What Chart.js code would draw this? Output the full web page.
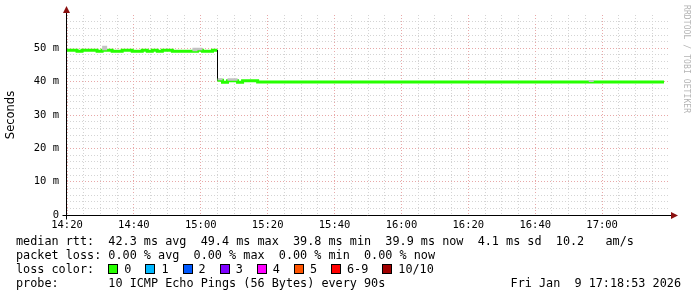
<!DOCTYPE html>
<html>
<head>
<meta charset="utf-8">
<script src="https://cdn.jsdelivr.net/npm/chart.js@4.4.1/dist/chart.umd.min.js"></script>
<style>
  html, body { margin: 0; padding: 0; background: #fff; }
  #wrap { position: relative; width: 697px; height: 297px; overflow: hidden; }
  #chart { position: absolute; left: 0; top: 0; }
  .lg { position: absolute; left: 16px; font: 11.8px "DejaVu Sans Mono", monospace; white-space: pre; color: #000; line-height: 14px; }
  .sw { display: inline-block; width: 8px; height: 8px; border: 1px solid #000; vertical-align: -1px; margin-right: 6px; }
  .it { margin-right: 14px; }
  #credit { position: absolute; left: 682px; top: 5px; writing-mode: vertical-rl; font: 8px "DejaVu Sans Mono", monospace; color: #b4b4b4; letter-spacing: 0.1px; }
</style>
</head>
<body>
<div id="wrap">
  <canvas id="chart" width="697" height="297"></canvas>
  <div id="credit">RRDTOOL / TOBI OETIKER</div>
  <div class="lg" style="top:234px">median rtt:  42.3 ms avg  49.4 ms max  39.8 ms min  39.9 ms now  4.1 ms sd  10.2   am/s</div>
  <div class="lg" style="top:248px">packet loss: 0.00 % avg  0.00 % max  0.00 % min  0.00 % now</div>
  <div class="lg" id="lossRow" style="top:262px">loss color:  </div>
  <div class="lg" style="top:276px;width:665px">probe:       10 ICMP Echo Pings (56 Bytes) every 90s<span style="position:absolute;right:0">Fri Jan  9 17:18:53 2026</span></div>
</div>
<script>
// minutes after 14:20, one entry per step of the median line
const stepStart = [0, 3, 4.5, 9, 10.5, 12, 13.5, 16.5, 19.5, 22.5, 24, 25.5, 27, 28.5, 31.5, 37.5, 39, 40.5, 43.5,
  45, 46.5, 48, 49.5, 51, 52.5, 57, 156, 157.5];
const medianMs = [49.4, 49.1, 49.4, 49.1, 49.4, 49.4, 49.1, 49.4, 49.1, 49.4, 49.1, 49.4, 49.1, 49.4, 49.1, 49.1, 49.4, 49.1, 49.4,
  40.4, 39.8, 40.3, 40.3, 39.8, 40.3, 39.9, 39.9, 39.9];
const smokeHiMs = [49.4, 49.1, 49.4, 49.1, 50.8, 49.4, 49.1, 49.4, 49.1, 49.4, 49.1, 49.4, 49.1, 49.4, 49.1, 50.2, 50.2, 49.1, 49.4,
  41.0, 39.8, 41.0, 41.0, 39.8, 40.3, 39.9, 40.5, 39.9];
const lastSample = 178.5;
const xTickLabels = ['14:20', '14:40', '15:00', '15:20', '15:40', '16:00', '16:20', '16:40', '17:00'];
const lossLabels = ['0', '1', '2', '3', '4', '5', '6-9', '10/10'];
const lossColors = ['#26ff00', '#00b8ff', '#0059ff', '#7e00ff', '#ff00ff', '#ff5500', '#ff0000', '#a10000'];

const minorGrid = '#d4d4d4';
const majorGrid = '#e8a8a8';

// loss colour legend
const lossRow = document.getElementById('lossRow');
lossLabels.forEach((l, i) => {
  const sw = document.createElement('span');
  sw.className = 'sw';
  sw.style.background = lossColors[i];
  const t = document.createElement('span');
  t.className = 'it';
  t.textContent = l;
  lossRow.appendChild(sw);
  lossRow.appendChild(t);
});

function stepPoints(vals) {
  const pts = [];
  stepStart.forEach((t, i) => {
    const t2 = i + 1 < stepStart.length ? stepStart[i + 1] : lastSample;
    pts.push({ x: t, y: vals[i] }, { x: t2, y: vals[i] });
  });
  return pts;
}

const isDrop = c => c.p0.parsed.x === c.p1.parsed.x && Math.abs(c.p0.parsed.y - c.p1.parsed.y) > 2;

const axisArrows = {
  id: 'axisArrows',
  afterDatasetsDraw(chart) {
    const { ctx, chartArea: a } = chart;
    const x0 = Math.round(a.left) - 0.5, y0 = Math.round(a.bottom) + 0.5;
    ctx.save();
    ctx.strokeStyle = '#000';
    ctx.lineWidth = 1;
    ctx.beginPath();
    ctx.moveTo(x0 - 4, y0); ctx.lineTo(a.right + 4, y0);
    ctx.moveTo(x0, y0 + 4); ctx.lineTo(x0, a.top - 3);
    ctx.stroke();
    ctx.fillStyle = '#8b1010';
    ctx.beginPath();
    ctx.moveTo(x0, a.top - 9); ctx.lineTo(x0 - 3.5, a.top - 2); ctx.lineTo(x0 + 3.5, a.top - 2);
    ctx.closePath(); ctx.fill();
    ctx.beginPath();
    ctx.moveTo(a.right + 9, y0); ctx.lineTo(a.right + 2, y0 - 3.5); ctx.lineTo(a.right + 2, y0 + 3.5);
    ctx.closePath(); ctx.fill();
    ctx.restore();
  }
};

new Chart(document.getElementById('chart'), {
  type: 'line',
  data: {
    datasets: [
      {
        label: 'smoke',
        data: stepPoints(smokeHiMs),
        borderWidth: 0,
        pointRadius: 0,
        fill: '+1',
        backgroundColor: '#c2c2c2'
      },
      {
        label: 'median rtt',
        data: stepPoints(medianMs),
        borderColor: lossColors[0],
        borderWidth: 3,
        pointRadius: 0,
        fill: false,
        borderCapStyle: 'butt',
        borderJoinStyle: 'miter',
        segment: {
          borderColor: c => isDrop(c) ? '#000' : undefined,
          borderWidth: c => isDrop(c) ? 1 : undefined
        }
      }
    ]
  },
  options: {
    responsive: false,
    animation: false,
    devicePixelRatio: 1,
    layout: { padding: { top: 15, right: 28, left: 0, bottom: 0 } },
    plugins: { legend: { display: false }, tooltip: { enabled: false } },
    scales: {
      x: {
        type: 'linear', min: 0, max: 180,
        afterFit: s => { s.height = 82; },
        border: { display: false, dash: [1, 2] },
        grid: {
          drawTicks: false,
          color: c => c.tick.value >= 180 ? 'rgba(0,0,0,0)' : (c.tick.value % 20 === 0 ? majorGrid : minorGrid)
        },
        ticks: {
          stepSize: 5, autoSkip: false, maxRotation: 0, padding: 4, color: '#000',
          font: { family: 'DejaVu Sans Mono', size: 10.5 },
          callback: v => (v % 20 === 0 && v < 180) ? xTickLabels[v / 20] : ''
        }
      },
      y: {
        min: 0, max: 60,
        afterFit: s => { s.width = 67; },
        border: { display: false, dash: [1, 2] },
        grid: {
          drawTicks: false,
          color: c => c.tick.value >= 60 ? 'rgba(0,0,0,0)' : (c.tick.value % 10 === 0 ? majorGrid : minorGrid)
        },
        ticks: {
          stepSize: 2, autoSkip: false, padding: 8, color: '#000',
          font: { family: 'DejaVu Sans Mono', size: 10.5 },
          callback: v => (v % 10 === 0 && v < 60) ? (v === 0 ? '0' : v + ' m') : ''
        },
        title: {
          display: true, text: 'Seconds', color: '#000',
          font: { family: 'DejaVu Sans', size: 11.5 },
          padding: { top: 4, bottom: 0 }
        }
      }
    }
  },
  plugins: [axisArrows]
});
</script>
</body>
</html>
